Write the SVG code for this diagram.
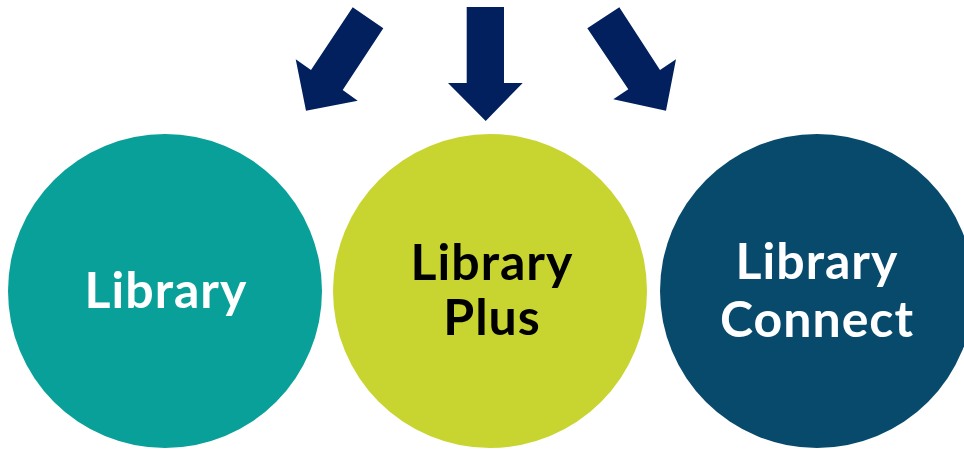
<svg xmlns="http://www.w3.org/2000/svg" width="964" height="450" viewBox="0 0 964 450">
<style>
.arrow{fill:#02205E}
.lbl{font-family:Lato,"Open Sans","Liberation Sans",sans-serif;font-weight:700;font-size:50px;text-anchor:middle;letter-spacing:1px}
.w{fill:#FFFFFF}
.k{fill:#000000}
</style>
<rect width="964" height="450" fill="#FFFFFF"/>
<g id="connectors">
<polygon class="arrow" points="352.7,7.3 383.3,28.3 342.7,90 357.7,100.7 306,110.7 295.7,59.3 311,70"/>
<polygon class="arrow" points="466.7,7 504,7 504,83 522.7,83 485.7,121 448,83 466.7,83"/>
<polygon class="arrow" points="619.3,7.3 587.3,28.3 628.3,89.3 613.3,99.3 666,110.7 676,59.3 660,70"/>
</g>
<g id="library">
<circle cx="165" cy="291" r="157" fill="#09A099"/>
<text class="lbl w" x="166" y="308">Library</text>
</g>
<g id="library-plus">
<circle cx="490" cy="291" r="157" fill="#C8D530"/>
<text class="lbl k" x="492" y="280">Library</text>
<text class="lbl k" x="492" y="335">Plus</text>
</g>
<g id="library-connect">
<circle cx="817" cy="291" r="157" fill="#084A6C"/>
<text class="lbl w" x="817" y="279">Library</text>
<text class="lbl w" x="817" y="337">Connect</text>
</g>
</svg>
